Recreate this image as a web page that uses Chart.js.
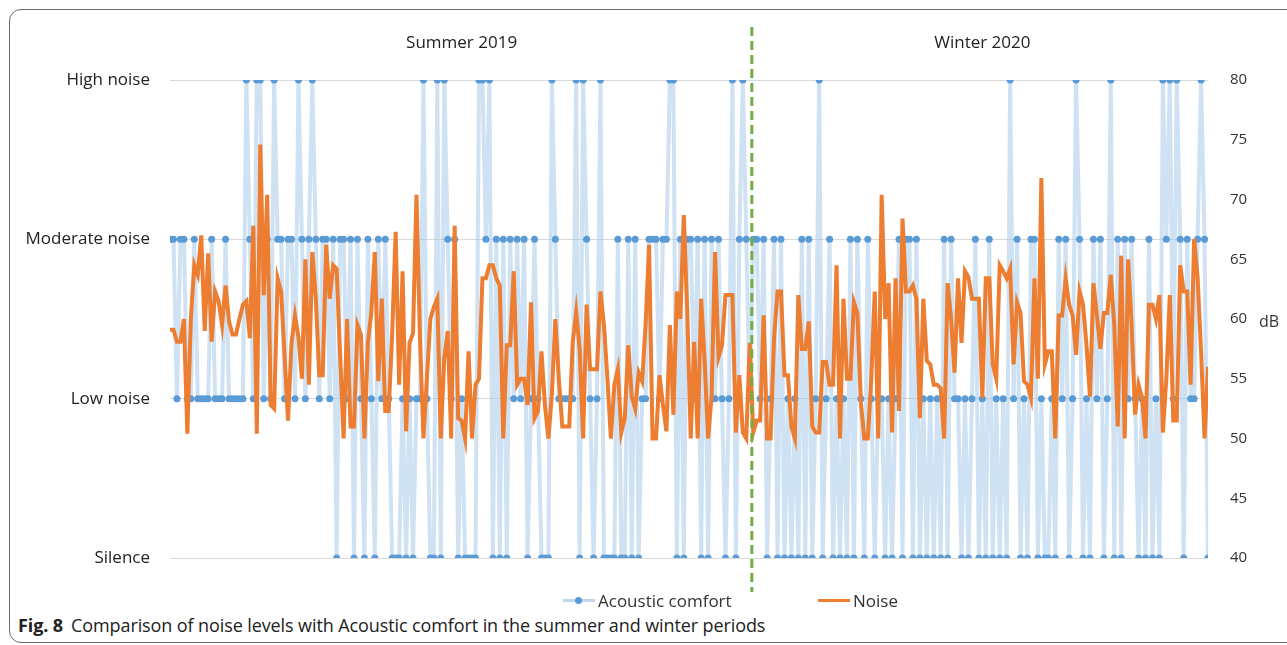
<!DOCTYPE html>
<html>
<head>
<meta charset="utf-8">
<script src="https://cdn.jsdelivr.net/npm/chart.js@4.4.1/dist/chart.umd.min.js"></script>
<style>
  body { margin: 0; background: #fff; font-family: "Open Sans", sans-serif; }
  #wrap { position: relative; width: 1287px; height: 645px; overflow: hidden; }
  #frame { position: absolute; left: 9px; top: 9px; width: 1300px; height: 632px;
           border: 1px solid #6b6b6b; border-radius: 12px; }
  #chart { position: absolute; left: 0; top: 0; }
  .leg { position: absolute; top: 588px; height: 24px; display: flex; align-items: center;
         font-size: 17px; color: #333; }
  .mark { position: relative; width: 32px; height: 3px; margin-right: 3px; }
  .mark i { position: absolute; left: 12px; top: -2px; width: 7px; height: 7px;
            border-radius: 50%; background: #5B9BD5; }
  #caption { position: absolute; left: 18px; top: 613px; font-size: 18px; color: #222;
             letter-spacing: -0.1px; }
  #caption b { margin-right: 8px; }
</style>
</head>
<body>
<div id="wrap">
  <div id="frame"></div>
  <canvas id="chart" width="1287" height="612"></canvas>
  <div class="leg" style="left:563px"><span class="mark" style="background:#BDD7EE"><i></i></span>Acoustic comfort</div>
  <div class="leg" style="left:818px"><span class="mark" style="background:#ED7D31"></span>Noise</div>
  <div id="caption"><b>Fig. 8</b>Comparison of noise levels with Acoustic comfort in the summer and winter periods</div>
</div>
<script>
// niveles de confort acústico (eje izquierdo)
var levels = ["Silence", "Low noise", "Moderate noise", "High noise"];
var periods = ["Summer 2019", "Winter 2020"];
var periodStart = [0, 169];
var periodEnd = [168, 299];
var boundary = 167.6;

// 0 = Silence, 1 = Low, 2 = Moderate, 3 = High
var comfort = [
  2,2,1,2,2,1,1,2,1,1,
  1,1,2,1,1,1,2,1,1,1,
  1,1,3,2,1,3,3,1,2,1,
  3,2,2,1,2,2,1,3,2,1,
  2,3,2,1,2,2,1,2,0,2,
  2,1,2,0,2,1,0,2,1,0,
  2,1,2,1,0,0,0,1,0,1,
  0,1,1,3,1,0,0,3,0,3,
  2,1,2,0,1,0,0,0,0,3,
  3,2,3,0,2,0,2,0,2,1,
  2,1,2,0,1,2,1,0,0,0,
  3,2,1,1,1,1,1,3,0,3,
  2,1,0,1,3,0,0,0,0,2,
  0,0,2,0,2,0,1,1,2,2,
  2,1,2,2,3,3,0,2,0,2,
  2,1,2,0,2,0,2,1,2,1,
  0,1,3,0,2,3,2,1,2,2,
  1,2,0,1,2,0,2,0,1,0,
  1,0,2,0,2,0,1,3,0,1,
  2,0,1,0,1,0,2,0,2,1,
  0,2,1,0,1,1,0,1,0,1,
  2,0,2,2,0,2,0,1,0,1,
  0,1,0,2,0,2,1,1,0,1,
  0,1,2,0,1,0,2,0,1,0,
  1,0,3,1,2,0,1,0,2,2,
  0,1,0,0,1,0,2,1,2,0,
  1,3,2,0,1,0,2,1,2,0,
  1,3,0,2,0,2,1,2,1,0,
  1,0,2,0,1,0,3,2,3,1,
  3,2,0,2,1,1,2,3,2,0
];

// ruido en dB (eje derecho)
var noise = [
  59.1,59.1,58.1,58.1,60,50.4,60,64.5,63.7,67,
  59,65.5,58.1,62.3,61.5,59.5,62.8,59.8,58.7,58.7,
  60,61.2,61.5,58.4,67.8,50.4,74.6,62,70.4,52.8,
  52.5,63.4,62.3,57,51.5,58,60.3,58.5,55,65,
  54.5,65.6,61.7,55.3,55.3,66.2,61.7,64.5,64.2,57,
  50,60,51,51,59.5,58.7,50,58,60.6,65.6,
  54.8,61.7,52.3,52.3,58.8,67.3,54.5,64,50.6,58,
  58.8,70.4,58.5,50,55,60,61,61.7,50,56.7,
  59,50,67.8,51.7,51.5,50,57.3,50,54.5,55,
  63.4,63.4,64.5,64.5,63.4,62.8,50,57.8,57.8,64,
  54.5,55,55,52.8,61.4,51.7,52.3,57.3,52.8,50,
  53.7,60,55,51,51,51,58,60.6,57.5,50,
  61.2,55.8,55.8,55.8,62.3,59.5,55,50,54.5,55.8,
  50.5,51.7,57.8,53.5,52.5,55.5,54.8,59.5,66.2,50,
  50,55.3,52.8,50.6,59.5,52,62.3,60,68.7,60.6,
  50,58.1,50,61.7,56.5,50,53.5,65.6,56.8,57.8,
  62,62,62,50.5,55.3,50.5,50,58,50.5,51.5,
  51.5,60.3,50,50,58.4,62.3,62.3,55.3,55.3,51,
  50,62,57.5,57.5,59.8,51,50.5,50.5,56.4,56.4,
  54.5,54.5,64.5,50,61.7,55,55,61.4,60.5,53,
  50,50,55,62.3,50,70.4,60,63,50.5,63.4,
  52.3,68.4,62.3,62.3,62.8,61.7,51.7,61.7,56.5,56.2,
  54.5,54.5,54.2,50,63,60,55.5,63.4,58,64,
  63.5,61.7,61.7,61.7,53.4,63.4,63.4,56.2,55,64.5,
  64,63.4,64.2,56.2,61.4,60.5,54.8,54.5,53.4,63.4,
  55,71.8,56.2,57.3,57.3,50,60.3,60.3,63.4,61.2,
  60.3,57,62.3,61.2,57.8,53.5,63,60.3,57.5,60.5,
  60.5,63.7,59.5,51,65.3,50,65,59.5,52,54.5,
  53.4,50,61.2,61.2,60,62,50.5,55,62,51.5,
  51.5,64.5,62.3,62.3,54.5,66.7,63.5,57.3,50,56
];

var dbTicks = [40, 45, 50, 55, 60, 65, 70, 75, 80];

var extras = {
  id: "extras",
  afterDatasetsDraw: function (chart) {
    var ctx = chart.ctx;
    var x = chart.scales.x;
    var y2 = chart.scales.y2;
    ctx.save();
    ctx.font = '17px "Open Sans"';
    ctx.fillStyle = "#222";
    ctx.textAlign = "center";
    ctx.textBaseline = "middle";
    for (var p = 0; p < periods.length; p++) {
      ctx.fillText(periods[p], x.getPixelForValue((periodStart[p] + periodEnd[p]) / 2), 43);
    }
    // linea verde entre verano e invierno
    var xd = x.getPixelForValue(boundary);
    ctx.strokeStyle = "#70AD47";
    ctx.lineWidth = 3;
    ctx.setLineDash([9, 5]);
    ctx.beginPath();
    ctx.moveTo(xd, 27);
    ctx.lineTo(xd, 592);
    ctx.stroke();
    ctx.setLineDash([]);
    ctx.textAlign = "left";
    ctx.fillStyle = "#333";
    ctx.font = '16px "Open Sans"';
    ctx.fillText("dB", 1259, y2.getPixelForValue(60) + 3);
    ctx.restore();
  }
};

var ctx = document.getElementById("chart").getContext("2d");
var chart = new Chart(ctx, {
  type: "line",
  data: {
    labels: comfort.map(function (_, i) { return i; }),
    datasets: [
      {
        label: "Noise",
        data: noise,
        yAxisID: "y2",
        borderColor: "#ED7D31",
        borderWidth: 4,
        pointRadius: 0,
        tension: 0,
        order: 0
      },
      {
        label: "Acoustic comfort",
        data: comfort,
        yAxisID: "y",
        borderColor: "rgba(160,198,232,0.5)",
        borderWidth: 4,
        pointRadius: 3.5,
        pointBackgroundColor: "#5B9BD5",
        pointBorderWidth: 0,
        tension: 0,
        order: 1
      }
    ]
  },
  options: {
    responsive: false,
    animation: false,
    layout: { padding: { top: 80, bottom: 54, left: 10, right: 0 } },
    plugins: { legend: { display: false }, tooltip: { enabled: false } },
    scales: {
      x: { type: "linear", min: 0, max: comfort.length - 1, display: false },
      y: {
        position: "left",
        min: 0, max: 3,
        afterFit: function (s) { s.width = 160; },
        border: { display: false },
        grid: { color: "#D9D9D9", drawTicks: false },
        ticks: {
          stepSize: 1, padding: 20, color: "#222",
          font: { family: "Open Sans", size: 17 },
          callback: function (v) { return levels[v]; }
        }
      },
      y2: {
        position: "right",
        min: 40, max: 80,
        afterFit: function (s) { s.width = 79; },
        border: { display: false },
        grid: { display: false, drawTicks: false },
        afterBuildTicks: function (s) { s.ticks = dbTicks.map(function (v) { return { value: v }; }); },
        ticks: { padding: 22, color: "#333", font: { family: "Open Sans", size: 15 } }
      }
    }
  },
  plugins: [extras]
});
</script>
</body>
</html>
